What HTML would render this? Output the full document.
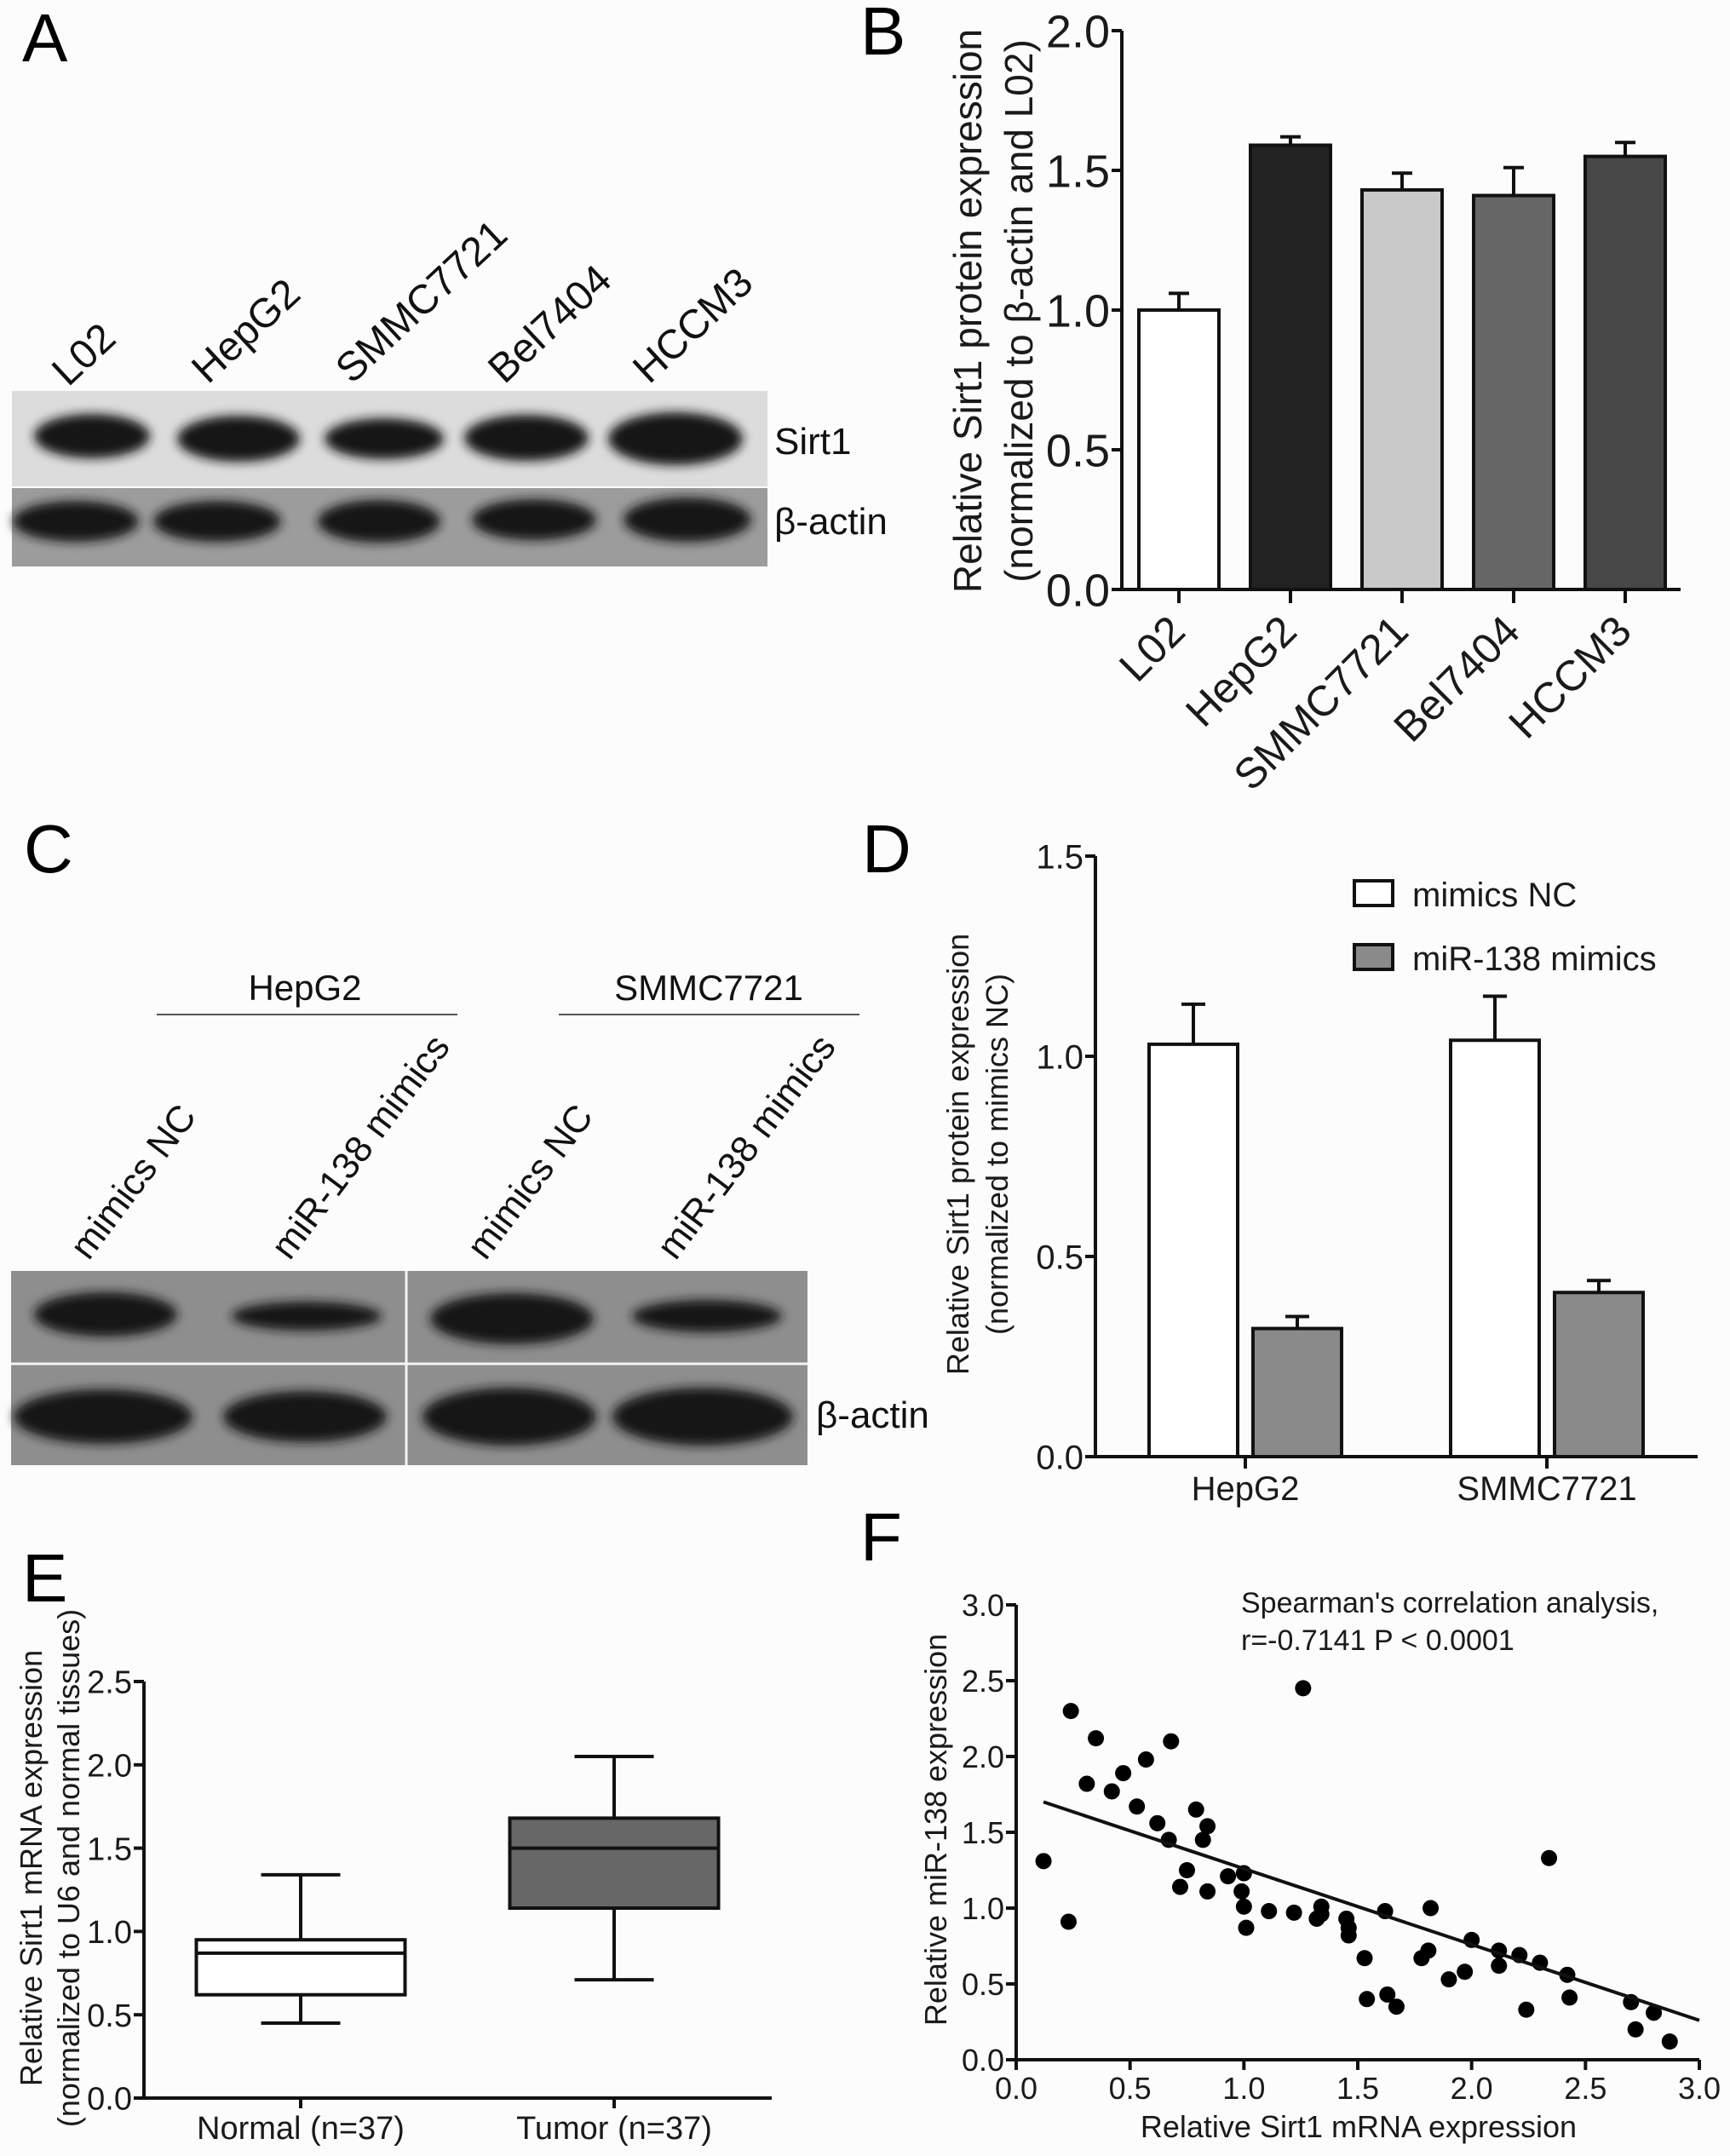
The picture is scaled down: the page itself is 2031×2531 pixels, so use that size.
<!DOCTYPE html>
<html><head><meta charset="utf-8">
<style>
html,body{margin:0;padding:0;background:#fcfcfc;}
svg{display:block;font-family:"Liberation Sans",Arial,sans-serif;}
</style></head>
<body>
<svg id="fig" width="2031" height="2531" viewBox="0 0 2031 2531" xmlns="http://www.w3.org/2000/svg">
<defs>
<filter id="blur" x="-20%" y="-50%" width="140%" height="200%"><feGaussianBlur stdDeviation="6"/></filter>
</defs>
<rect width="2031" height="2531" fill="#fcfcfc"/>
<g font-size="80" fill="#000">
<text x="26" y="72">A</text>
<text x="1010" y="64">B</text>
<text x="28" y="1024">C</text>
<text x="1012" y="1024">D</text>
<text x="26" y="1880">E</text>
<text x="1010" y="1832">F</text>
</g>

<g>
<rect x="14" y="459" width="887" height="112" fill="#dcdcdc"/>
<rect x="14" y="573" width="887" height="92" fill="#9c9c9c"/>
<g fill="#151515" filter="url(#blur)">
<ellipse cx="108" cy="512" rx="68" ry="26"/>
<ellipse cx="280" cy="515" rx="72" ry="27"/>
<ellipse cx="451" cy="515" rx="70" ry="24"/>
<ellipse cx="618" cy="514" rx="73" ry="27"/>
<ellipse cx="793" cy="515" rx="79" ry="31"/>
<ellipse cx="89" cy="612" rx="74" ry="24"/>
<ellipse cx="255" cy="612" rx="75" ry="24"/>
<ellipse cx="445" cy="612" rx="72" ry="25"/>
<ellipse cx="627" cy="610" rx="73" ry="24"/>
<ellipse cx="807" cy="610" rx="75" ry="26"/>
</g>
<g font-size="48" fill="#111">
<text transform="translate(80,455) rotate(-43)">L02</text>
<text transform="translate(244,452) rotate(-43)">HepG2</text>
<text transform="translate(413,452) rotate(-43)">SMMC7721</text>
<text transform="translate(592,452) rotate(-43)">Bel7404</text>
<text transform="translate(762,452) rotate(-43)">HCCM3</text>
</g>
<g font-size="44" fill="#111">
<text x="909" y="533">Sirt1</text>
<text x="909" y="627">β-actin</text>
</g>
</g>

<g>
<g font-size="42" fill="#111">
<text x="358" y="1174" text-anchor="middle">HepG2</text>
<text x="832" y="1174" text-anchor="middle">SMMC7721</text>
</g>
<line x1="184" y1="1191" x2="537" y2="1191" stroke="#555" stroke-width="2"/>
<line x1="656" y1="1191" x2="1009" y2="1191" stroke="#555" stroke-width="2"/>
<g font-size="44" fill="#111">
<text transform="translate(104,1481) rotate(-53)">mimics NC</text>
<text transform="translate(340,1481) rotate(-53)">miR-138 mimics</text>
<text transform="translate(570,1481) rotate(-53)">mimics NC</text>
<text transform="translate(793,1481) rotate(-53)">miR-138 mimics</text>
</g>
<rect x="13" y="1492" width="935" height="228" fill="#8e8e8e"/>
<line x1="13" y1="1601" x2="948" y2="1601" stroke="#f4f4f4" stroke-width="3"/>
<line x1="477" y1="1492" x2="477" y2="1720" stroke="#f4f4f4" stroke-width="3"/>
<g fill="#141414" filter="url(#blur)">
<ellipse cx="124" cy="1543" rx="84" ry="26"/>
<ellipse cx="360" cy="1545" rx="88" ry="17"/>
<ellipse cx="601" cy="1548" rx="96" ry="30"/>
<ellipse cx="830" cy="1545" rx="88" ry="19"/>
<ellipse cx="121" cy="1663" rx="105" ry="32"/>
<ellipse cx="358" cy="1663" rx="96" ry="30"/>
<ellipse cx="598" cy="1663" rx="102" ry="34"/>
<ellipse cx="825" cy="1663" rx="106" ry="34"/>
</g>
<text x="958" y="1676" font-size="44" fill="#111">β-actin</text>
</g>

<g id="chartB"></g>
<g id="chartD"></g>
<g id="chartE"></g>
<g id="chartF"></g>
</svg>
<script>
const NS="http://www.w3.org/2000/svg";
function mk(parent,tag,attrs,text){const e=document.createElementNS(NS,tag);for(const k in attrs)e.setAttribute(k,attrs[k]);if(text!==undefined)e.textContent=text;parent.appendChild(e);return e;}

const bCategories=["L02","HepG2","SMMC7721","Bel7404","HCCM3"];
const bValues=[1.0,1.59,1.43,1.41,1.55];
const bErrors=[0.06,0.03,0.06,0.10,0.05];
const bColors=["#ffffff","#222222","#c9c9c9","#666666","#474747"];
const bTicks=[0,0.5,1.0,1.5,2.0];
const bTickLabels=["0.0","0.5","1.0","1.5","2.0"];

const dCategories=["HepG2","SMMC7721"];
const dSeriesNames=["mimics NC","miR-138 mimics"];
const dNC=[1.03,1.04];
const dNCerr=[0.10,0.11];
const dMiR=[0.32,0.41];
const dMiRerr=[0.03,0.03];
const dTicks=[0,0.5,1.0,1.5];
const dTickLabels=["0.0","0.5","1.0","1.5"];

const eCategories=["Normal (n=37)","Tumor (n=37)"];
const eMin=[0.45,0.71];
const eQ1=[0.62,1.14];
const eMedian=[0.87,1.50];
const eQ3=[0.95,1.68];
const eMax=[1.34,2.05];
const eTicks=[0,0.5,1.0,1.5,2.0,2.5];
const eTickLabels=["0.0","0.5","1.0","1.5","2.0","2.5"];

const fX=[0.12,0.24,0.23,0.31,0.35,0.42,0.47,0.53,0.57,0.62,0.67,0.68,0.72,0.75,0.79,0.82,0.84,0.84,0.93,1.0,0.99,1.0,1.01,1.11,1.22,1.26,1.32,1.34,1.34,1.45,1.46,1.46,1.53,1.54,1.62,1.63,1.67,1.78,1.81,1.82,1.90,1.97,2.0,2.12,2.12,2.21,2.24,2.30,2.34,2.42,2.43,2.72,2.70,2.80,2.87];
const fY=[1.31,2.30,0.91,1.82,2.12,1.77,1.89,1.67,1.98,1.56,1.45,2.10,1.14,1.25,1.65,1.45,1.54,1.11,1.21,1.23,1.11,1.01,0.87,0.98,0.97,2.45,0.93,1.01,0.96,0.93,0.87,0.82,0.67,0.40,0.98,0.43,0.35,0.67,0.72,1.00,0.53,0.58,0.79,0.72,0.62,0.69,0.33,0.64,1.33,0.56,0.41,0.20,0.38,0.31,0.12];
const fFit=[[0.12,1.70],[3.0,0.26]];
const fXTicks=[0,0.5,1.0,1.5,2.0,2.5,3.0];
const fXTickLabels=["0.0","0.5","1.0","1.5","2.0","2.5","3.0"];
const fYTicks=[0,0.5,1.0,1.5,2.0,2.5,3.0];
const fYTickLabels=["0.0","0.5","1.0","1.5","2.0","2.5","3.0"];

function yAxis(g,x,yf,ticks,labels,fs,top,bottom,name){
  const ax=mk(g,"line",{x1:x,y1:top,x2:x,y2:bottom,stroke:"#111","stroke-width":4});
  
  
  ticks.forEach((t,i)=>{
    mk(g,"line",{x1:x-12,y1:yf(t),x2:x,y2:yf(t),stroke:"#111","stroke-width":4});
    const tx=mk(g,"text",{x:x-14,y:yf(t)+fs*0.36,"text-anchor":"end","font-size":fs,fill:"#1a1a1a"},labels[i]);
    
    
  });
}

(function(){
  const g=document.getElementById("chartB");
  const x0=1317,y0=692,yTop=36,xEnd=1973;
  const yf=v=>y0-(v/2.0)*(y0-yTop);
  const step=131, first=1384, bw=94;
  const xc=i=>first+i*step;
  yAxis(g,x0,yf,bTicks,bTickLabels,54,yTop,y0+2,"chart-b");
  bCategories.forEach((c,i)=>{
    const cx=xc(i);
    const el=mk(g,"line",{x1:cx,y1:yf(bValues[i]+bErrors[i]),x2:cx,y2:yf(bValues[i]),stroke:"#111","stroke-width":4});
    
    
    mk(g,"line",{x1:cx-12,y1:yf(bValues[i]+bErrors[i]),x2:cx+12,y2:yf(bValues[i]+bErrors[i]),stroke:"#111","stroke-width":4});
    const r=mk(g,"rect",{x:cx-bw/2,y:yf(bValues[i]),width:bw,height:y0-yf(bValues[i]),fill:bColors[i],stroke:"#111","stroke-width":4});
    
    
    mk(g,"line",{x1:cx,y1:y0,x2:cx,y2:y0+16,stroke:"#111","stroke-width":4});
    const t=mk(g,"text",{transform:`translate(${cx+10},${y0+52}) rotate(-45)`,"text-anchor":"end","font-size":50,fill:"#1a1a1a"},c);
    
    
  });
  mk(g,"line",{x1:x0-2,y1:y0,x2:xEnd,y2:y0,stroke:"#111","stroke-width":4});
  const t1=mk(g,"text",{transform:"translate(1136,365) rotate(-90)","text-anchor":"middle","font-size":46,fill:"#1a1a1a",dy:"16"},"Relative Sirt1 protein expression");
  
  
  mk(g,"text",{transform:"translate(1196,365) rotate(-90)","text-anchor":"middle","font-size":46,fill:"#1a1a1a",dy:"16"},"(normalized to β-actin and L02)");
})();

(function(){
  const g=document.getElementById("chartD");
  const x0=1286,y0=1710,yTop=1005,xEnd=1993;
  const yf=v=>y0-(v/1.5)*(y0-yTop);
  const centers=[1462,1816], bw=104, off=61;
  yAxis(g,x0,yf,dTicks,dTickLabels,40,yTop,y0+2,"chart-d");
  function bar(cx,v,e,fill,nm){
    mk(g,"line",{x1:cx,y1:yf(v+e),x2:cx,y2:yf(v),stroke:"#111","stroke-width":4});
    mk(g,"line",{x1:cx-14,y1:yf(v+e),x2:cx+14,y2:yf(v+e),stroke:"#111","stroke-width":4});
    const r=mk(g,"rect",{x:cx-bw/2,y:yf(v),width:bw,height:y0-yf(v),fill:fill,stroke:"#111","stroke-width":4});
    
    
  }
  dCategories.forEach((c,i)=>{
    bar(centers[i]-off,dNC[i],dNCerr[i],"#ffffff","bar-nc-"+c.toLowerCase());
    bar(centers[i]+off,dMiR[i],dMiRerr[i],"#8a8a8a","bar-mir138-"+c.toLowerCase());
    mk(g,"line",{x1:centers[i],y1:y0,x2:centers[i],y2:y0+14,stroke:"#111","stroke-width":4});
    const t=mk(g,"text",{x:centers[i],y:1761,"text-anchor":"middle","font-size":40,fill:"#1a1a1a"},c);
    
    
  });
  mk(g,"line",{x1:x0-2,y1:y0,x2:xEnd,y2:y0,stroke:"#111","stroke-width":4});
  const fills=["#ffffff","#8a8a8a"], ly=[1034,1109];
  dSeriesNames.forEach((n,i)=>{
    const r=mk(g,"rect",{x:1590,y:ly[i],width:45,height:29,fill:fills[i],stroke:"#111","stroke-width":4});
    
    
    const t=mk(g,"text",{x:1658,y:ly[i]+30,"font-size":40,fill:"#1a1a1a"},n);
    
    
  });
  const t1=mk(g,"text",{transform:"translate(1124,1355) rotate(-90)","text-anchor":"middle","font-size":36,fill:"#1a1a1a",dy:"13"},"Relative Sirt1 protein expression");
  
  
  mk(g,"text",{transform:"translate(1170,1355) rotate(-90)","text-anchor":"middle","font-size":36,fill:"#1a1a1a",dy:"13"},"(normalized to mimics NC)");
})();

(function(){
  const g=document.getElementById("chartE");
  const x0=169,y0=2463,yTop=1974,xEnd=906;
  const yf=v=>y0-(v/2.5)*(y0-yTop);
  const centers=[353,721], bw=245, cw=93;
  const fills=["#ffffff","#676767"];
  yAxis(g,x0,yf,eTicks,eTickLabels,38,yTop,y0+2,"chart-e");
  eCategories.forEach((c,i)=>{
    const cx=centers[i];
    mk(g,"line",{x1:cx,y1:yf(eMax[i]),x2:cx,y2:yf(eQ3[i]),stroke:"#111","stroke-width":4});
    mk(g,"line",{x1:cx,y1:yf(eQ1[i]),x2:cx,y2:yf(eMin[i]),stroke:"#111","stroke-width":4});
    mk(g,"line",{x1:cx-cw/2,y1:yf(eMax[i]),x2:cx+cw/2,y2:yf(eMax[i]),stroke:"#111","stroke-width":4});
    mk(g,"line",{x1:cx-cw/2,y1:yf(eMin[i]),x2:cx+cw/2,y2:yf(eMin[i]),stroke:"#111","stroke-width":4});
    const r=mk(g,"rect",{x:cx-bw/2,y:yf(eQ3[i]),width:bw,height:yf(eQ1[i])-yf(eQ3[i]),fill:fills[i],stroke:"#111","stroke-width":4});
    
    
    mk(g,"line",{x1:cx-bw/2,y1:yf(eMedian[i]),x2:cx+bw/2,y2:yf(eMedian[i]),stroke:"#111","stroke-width":4});
    mk(g,"line",{x1:cx,y1:y0,x2:cx,y2:y0+12,stroke:"#111","stroke-width":4});
    const t=mk(g,"text",{x:cx,y:2511,"text-anchor":"middle","font-size":38,fill:"#1a1a1a"},c);
    
    
  });
  mk(g,"line",{x1:x0-2,y1:y0,x2:xEnd,y2:y0,stroke:"#111","stroke-width":4});
  const t1=mk(g,"text",{transform:"translate(36,2193) rotate(-90)","text-anchor":"middle","font-size":36,fill:"#1a1a1a",dy:"13"},"Relative Sirt1 mRNA expression");
  
  
  mk(g,"text",{transform:"translate(80,2193) rotate(-90)","text-anchor":"middle","font-size":36,fill:"#1a1a1a",dy:"13"},"(normalized to U6 and normal tissues)");
})();

(function(){
  const g=document.getElementById("chartF");
  const x0=1193,x1=1995,y0=2418,yTop=1884;
  const xf=v=>x0+(v/3)*(x1-x0);
  const yf=v=>y0-(v/3)*(y0-yTop);
  yAxis(g,x0,yf,fYTicks,fYTickLabels,36,yTop,y0+2,"chart-f");
  mk(g,"line",{x1:x0-2,y1:y0,x2:x1,y2:y0,stroke:"#111","stroke-width":4});
  fXTicks.forEach((t,i)=>{
    mk(g,"line",{x1:xf(t),y1:y0,x2:xf(t),y2:y0+12,stroke:"#111","stroke-width":4});
    const tx=mk(g,"text",{x:xf(t),y:2464,"text-anchor":"middle","font-size":36,fill:"#1a1a1a"},fXTickLabels[i]);
    
    
  });
  fX.forEach((x,i)=>{
    const c=mk(g,"circle",{cx:xf(x),cy:yf(fY[i]),r:9.5,fill:"#000"});
    
    
  });
  const ln=mk(g,"line",{x1:xf(fFit[0][0]),y1:yf(fFit[0][1]),x2:xf(fFit[1][0]),y2:yf(fFit[1][1]),stroke:"#111","stroke-width":4});
  
  
  const a1=mk(g,"text",{x:1457,y:1893,"font-size":34,fill:"#1a1a1a"},"Spearman's correlation analysis,");
  
  
  const a2=mk(g,"text",{x:1457,y:1937,"font-size":34,fill:"#1a1a1a"},"r=-0.7141  P < 0.0001");
  
  
  const xt=mk(g,"text",{x:1595,y:2509,"text-anchor":"middle","font-size":36,fill:"#1a1a1a"},"Relative Sirt1 mRNA expression");
  
  
  const yt=mk(g,"text",{transform:"translate(1098,2148) rotate(-90)","text-anchor":"middle","font-size":36,fill:"#1a1a1a",dy:"13"},"Relative miR-138 expression");
  
  
})();
</script>
</body></html>
